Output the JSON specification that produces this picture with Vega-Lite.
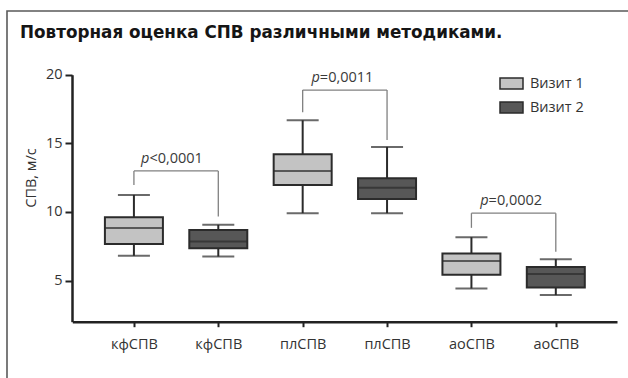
{
  "$schema": "https://vega.github.io/schema/vega-lite/v6.json",
  "width": 626,
  "height": 372,
  "autosize": {"type": "none"},
  "padding": {"left": 7, "top": 11, "right": -5, "bottom": -5},
  "background": "white",
  "config": {
    "view": {"stroke": "#5a5a5a", "strokeWidth": 1.6},
    "font": "Open Sans"
  },
  "title": {
    "text": "Повторная оценка СПВ различными методиками.",
    "anchor": "start",
    "frame": "group",
    "font": "DejaVu Sans",
    "fontWeight": "bold",
    "fontSize": 16.8,
    "color": "#151515",
    "baseline": "alphabetic",
    "offset": -43.5,
    "dx": 13
  },
  "datasets": {
    "boxes": [
      {"id": 1, "method": "кфСПВ", "group": "Визит 1", "lower": 6.8, "q1": 7.67, "median": 8.82, "q3": 9.62, "upper": 11.24},
      {"id": 2, "method": "кфСПВ", "group": "Визит 2", "lower": 6.75, "q1": 7.36, "median": 7.84, "q3": 8.69, "upper": 9.06},
      {"id": 3, "method": "плСПВ", "group": "Визит 1", "lower": 9.91, "q1": 11.97, "median": 12.99, "q3": 14.21, "upper": 16.68},
      {"id": 4, "method": "плСПВ", "group": "Визит 2", "lower": 9.91, "q1": 10.95, "median": 11.77, "q3": 12.46, "upper": 14.74},
      {"id": 5, "method": "аоСПВ", "group": "Визит 1", "lower": 4.42, "q1": 5.42, "median": 6.43, "q3": 6.97, "upper": 8.16},
      {"id": 6, "method": "аоСПВ", "group": "Визит 2", "lower": 3.94, "q1": 4.49, "median": 5.47, "q3": 5.98, "upper": 6.56}
    ],
    "brackets": [
      {"a": 1, "b": 2, "mid": 1.48, "top": 12.99, "left": 11.97, "right": 9.66, "p": "<0,0001"},
      {"a": 3, "b": 4, "mid": 3.5, "top": 18.88, "left": 17.26, "right": 15.24, "p": "=0,0011"},
      {"a": 5, "b": 6, "mid": 5.5, "top": 9.91, "left": 8.84, "right": 7.09, "p": "=0,0002"}
    ]
  },
  "layer": [
    {
      "data": {"name": "boxes"},
      "mark": {"type": "rule", "color": "#2b2b2b", "strokeWidth": 2},
      "encoding": {
        "x": {
          "field": "id", "type": "quantitative",
          "scale": {"domain": [0.329, 6.666], "range": [65.3, 610], "nice": false, "zero": false},
          "axis": {
            "values": [1, 2, 3, 4, 5, 6],
            "labelExpr": "['кфСПВ','кфСПВ','плСПВ','плСПВ','аоСПВ','аоСПВ'][datum.value - 1]",
            "offset": -61.3,
            "title": null,
            "grid": false,
            "domainColor": "#222222",
            "domainWidth": 2.5,
            "tickColor": "#222222",
            "tickWidth": 2,
            "tickSize": 5,
            "labelFontSize": 14.5,
            "labelColor": "#333333",
            "labelPadding": 11
          }
        },
        "y": {
          "field": "lower", "type": "quantitative",
          "scale": {"domain": [2, 20], "range": [310.7, 63.7], "nice": false, "zero": false},
          "axis": {
            "values": [5, 10, 15, 20],
            "offset": -65,
            "title": "СПВ, м/с",
            "grid": false,
            "domainColor": "#222222",
            "domainWidth": 2.5,
            "tickColor": "#222222",
            "tickWidth": 2,
            "tickSize": 7,
            "labelFontSize": 14.5,
            "labelColor": "#333333",
            "labelPadding": 3,
            "titleFontSize": 14.5,
            "titleFontWeight": "normal",
            "titleColor": "#333333",
            "titleX": -41,
            "titleY": 166.5,
            "titleAngle": -90,
            "titleAlign": "center",
            "titleBaseline": "middle"
          }
        },
        "y2": {"field": "upper"}
      }
    },
    {
      "data": {"name": "boxes"},
      "mark": {"type": "tick", "orient": "horizontal", "size": 32, "thickness": 2, "color": "#2b2b2b"},
      "encoding": {
        "x": {"field": "id", "type": "quantitative"},
        "y": {"field": "lower", "type": "quantitative"}
      }
    },
    {
      "data": {"name": "boxes"},
      "mark": {"type": "tick", "orient": "horizontal", "size": 32, "thickness": 2, "color": "#2b2b2b"},
      "encoding": {
        "x": {"field": "id", "type": "quantitative"},
        "y": {"field": "upper", "type": "quantitative"}
      }
    },
    {
      "data": {"name": "boxes"},
      "mark": {"type": "bar", "size": 58, "stroke": "#2b2b2b", "strokeWidth": 2, "orient": "vertical"},
      "encoding": {
        "x": {"field": "id", "type": "quantitative"},
        "y": {"field": "q1", "type": "quantitative"},
        "y2": {"field": "q3"},
        "color": {
          "field": "group", "type": "nominal",
          "scale": {"domain": ["Визит 1", "Визит 2"], "range": ["#c3c3c3", "#575757"]},
          "legend": {
            "orient": "none",
            "legendX": 492,
            "legendY": 60,
            "title": null,
            "symbolType": "M-1,-0.48H1V0.48H-1Z",
            "symbolSize": 529,
            "symbolStrokeColor": "#2b2b2b",
            "symbolStrokeWidth": 1.5,
            "symbolOpacity": 1,
            "labelFontSize": 14.5,
            "labelColor": "#333333",
            "labelOffset": 6,
            "rowPadding": 2
          }
        }
      }
    },
    {
      "data": {"name": "boxes"},
      "mark": {"type": "tick", "orient": "horizontal", "size": 58, "thickness": 2, "color": "#2b2b2b"},
      "encoding": {
        "x": {"field": "id", "type": "quantitative"},
        "y": {"field": "median", "type": "quantitative"}
      }
    },
    {
      "data": {"name": "brackets"},
      "mark": {"type": "rule", "color": "#808080", "strokeWidth": 1.3},
      "encoding": {
        "x": {"field": "a", "type": "quantitative"},
        "x2": {"field": "b"},
        "y": {"field": "top", "type": "quantitative"}
      }
    },
    {
      "data": {"name": "brackets"},
      "mark": {"type": "rule", "color": "#808080", "strokeWidth": 1.3},
      "encoding": {
        "x": {"field": "a", "type": "quantitative"},
        "y": {"field": "top", "type": "quantitative"},
        "y2": {"field": "left"}
      }
    },
    {
      "data": {"name": "brackets"},
      "mark": {"type": "rule", "color": "#808080", "strokeWidth": 1.3},
      "encoding": {
        "x": {"field": "b", "type": "quantitative"},
        "y": {"field": "top", "type": "quantitative"},
        "y2": {"field": "right"}
      }
    },
    {
      "data": {"name": "brackets"},
      "mark": {"type": "text", "align": "right", "baseline": "alphabetic", "dx": -25, "dy": -8, "fontSize": 14.5, "fontStyle": "italic", "color": "#3a3a3a"},
      "encoding": {
        "x": {"field": "mid", "type": "quantitative"},
        "y": {"field": "top", "type": "quantitative"},
        "text": {"value": "p"}
      }
    },
    {
      "data": {"name": "brackets"},
      "mark": {"type": "text", "align": "left", "baseline": "alphabetic", "dx": -25, "dy": -8, "fontSize": 14.5, "color": "#3a3a3a"},
      "encoding": {
        "x": {"field": "mid", "type": "quantitative"},
        "y": {"field": "top", "type": "quantitative"},
        "text": {"field": "p"}
      }
    }
  ]
}
